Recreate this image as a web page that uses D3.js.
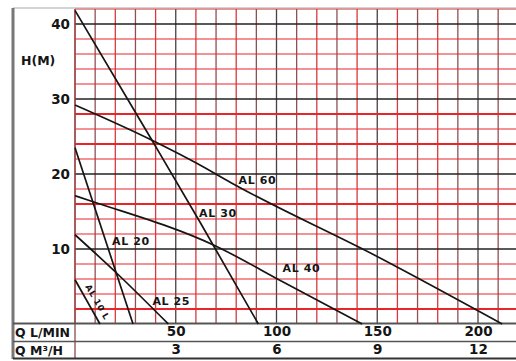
<!DOCTYPE html>
<head>
    <meta charset="utf-8"/>
    <script src="https://d3js.org/d3.v7.min.js"></script>
    <style>
        body { margin: 0; background: #fff; }
        text { font-family: "DejaVu Sans", sans-serif; font-weight: bold; fill: #151515; }
    </style>
</head>
<body>
<script>
    var width = 516,
        height = 361;

    // tick labels
    var hTicks = [10, 20, 30, 40];
    var qTicks = [50, 100, 150, 200];
    var m3hTicks = [3, 6, 9, 12];

    // pump curves, [Q l/min, H m]
    var al10 = [[0, 5.9], [12.4, 0]];
    var al20 = [[0, 23.5], [28.8, 0]];
    var al25 = [[0, 11.9], [21, 6.7], [46.3, 0]];
    var al30 = [[0, 41.8], [38.2, 24.5], [62, 13.6], [91, 0]];
    var al40 = [[0, 17.1], [9, 16.3], [69, 10.5], [104, 5.5], [142.5, 0]];
    var al60 = [[0, 29.2], [38.2, 24.5], [62, 21.2], [77, 18.9], [151.4, 8.8], [212, 0]];

    var names = ["AL 10 L", "AL 20", "AL 25", "AL 30", "AL 40", "AL 60"];
    var curves = [al10, al20, al25, al30, al40, al60];
    // where each name sits, in chart units
    var labelAt = [[5, 5.0], [18.4, 10.5], [38.4, 2.5], [61.6, 14.3], [103, 6.9], [81.2, 18.7]];

    var svg = d3.select("body").append("svg")
        .attr("width", width)
        .attr("height", height);

    var x = d3.scaleLinear().domain([0, 220]).range([75, 518.3]);
    var xm = d3.scaleLinear().domain([0, 220 * 3 / 50]).range(x.range());
    var y = d3.scaleLinear().domain([0, 42]).range([324, 9]);

    // grid
    var boldRed = [2, 16, 24, 28];
    svg.append("g").selectAll("line")
        .data(d3.range(0, 221, 10))
        .join("line")
        .attr("x1", d => x(d)).attr("x2", d => x(d))
        .attr("y1", y(42)).attr("y2", y(0))
        .attr("stroke", d => d % 50 == 0 && d > 0 ? "#4a4040" : (d / 10) % 2 ? "#8f5052" : "#d8393c")
        .attr("stroke-width", 1.3);

    svg.append("g").selectAll("line")
        .data(d3.range(2, 43, 2))
        .join("line")
        .attr("x1", x(0)).attr("x2", width)
        .attr("y1", d => y(d)).attr("y2", d => y(d))
        .attr("stroke", d => d % 10 == 0 ? "#222" : "#e8262a")
        .attr("stroke-width", d => d % 10 == 0 ? 1.6 : boldRed.indexOf(d) >= 0 ? 2 : 1.2);

    // frame and table
    svg.append("line").attr("x1", 13).attr("x2", width).attr("y1", 8).attr("y2", 8)
        .attr("stroke", "#aaa").attr("stroke-width", 1.2);
    svg.append("line").attr("x1", 13).attr("x2", 13).attr("y1", 8).attr("y2", 359)
        .attr("stroke", "#777").attr("stroke-width", 3);
    svg.append("line").attr("x1", x(0)).attr("x2", x(0)).attr("y1", y(42)).attr("y2", 358)
        .attr("stroke", "#8a4a4a").attr("stroke-width", 1.3);
    [[323.5, 2, "#555"], [341.5, 1.6, "#555"], [358.5, 2.2, "#333"]].forEach(function (r) {
        svg.append("line").attr("x1", 13).attr("x2", width).attr("y1", r[0]).attr("y2", r[0])
            .attr("stroke", r[2]).attr("stroke-width", r[1]);
    });

    // curves
    var line = d3.line().x(d => x(d[0])).y(d => y(d[1])).curve(d3.curveMonotoneX);
    svg.append("g").selectAll("path")
        .data(curves)
        .join("path")
        .attr("d", line)
        .attr("fill", "none")
        .attr("stroke", "#151515")
        .attr("stroke-width", 1.7);

    svg.append("g").selectAll("text")
        .data(names)
        .join("text")
        .attr("transform", function (d, i) {
            var t = "translate(" + x(labelAt[i][0]) + "," + y(labelAt[i][1]) + ")";
            return i == 0 ? t + " rotate(60)" : t;
        })
        .style("font-size", (d, i) => i == 0 ? "8.5px" : "11px")
        .style("letter-spacing", "0.6px")
        .text(d => d);

    // axes
    var yAxis = svg.append("g")
        .attr("transform", "translate(" + x(0) + ",0)")
        .call(d3.axisLeft(y).tickValues(hTicks).tickSize(0).tickPadding(5));
    yAxis.select(".domain").remove();
    yAxis.selectAll("text").style("font-size", "13.5px").style("font-family", null).attr("dy", "0.36em");

    svg.append("text").attr("x", 21).attr("y", 65).style("font-size", "12.5px").text("H(M)");

    var qAxis = svg.append("g")
        .attr("transform", "translate(0,325)")
        .call(d3.axisBottom(x).tickValues(qTicks).tickSize(0).tickPadding(1));
    var mAxis = svg.append("g")
        .attr("transform", "translate(0,343)")
        .call(d3.axisBottom(xm).tickValues(m3hTicks).tickSize(0).tickPadding(1));
    [qAxis, mAxis].forEach(function (a) {
        a.select(".domain").remove();
        a.selectAll("text").style("font-size", "13.5px").style("font-family", null);
    });

    svg.append("text").attr("x", 15).attr("y", 337).style("font-size", "12.5px").text("Q L/MIN");
    svg.append("text").attr("x", 15).attr("y", 355).style("font-size", "12.5px").text("Q M³/H");
</script>
</body>
